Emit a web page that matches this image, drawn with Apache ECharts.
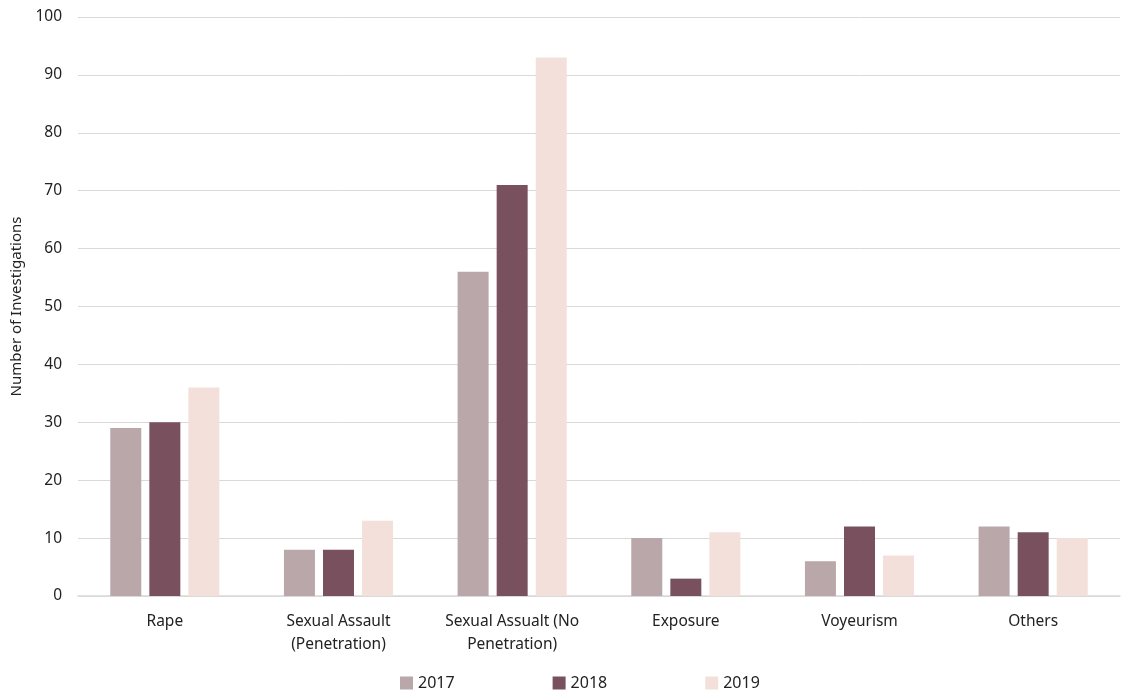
<!DOCTYPE html>
<html>
<head>
<meta charset="utf-8">
<script src="https://cdn.jsdelivr.net/npm/echarts@6/dist/echarts.min.js"></script>
<style>
  html, body { margin: 0; padding: 0; background: #fff; }
  #chart { width: 1122px; height: 691px; }
</style>
</head>
<body>
<div id="chart"></div>
<script>
const categories = ['Rape', 'Sexual Assault\n(Penetration)', 'Sexual Assualt (No\nPenetration)', 'Exposure', 'Voyeurism', 'Others'];
const seriesNames = ['2017', '2018', '2019'];
const values2017 = [29, 8, 56, 10, 6, 12];
const values2018 = [30, 8, 71, 3, 12, 11];
const values2019 = [36, 13, 93, 11, 7, 10];
const colors = ['#BAA7AA', '#79515E', '#F3E0DA'];

const font = 'Noto Sans, Liberation Sans, sans-serif';
const chart = echarts.init(document.getElementById('chart'), null, { renderer: 'canvas' });

const seriesData = [values2017, values2018, values2019];

chart.setOption({
  animation: false,
  textStyle: { fontFamily: font, color: '#222' },
  grid: { left: 78, right: 2, top: 17, bottom: 95, containLabel: false, outerBoundsMode: 'none' },
  legend: {
    bottom: -5,
    left: 395,
    itemWidth: 13,
    itemHeight: 13,
    itemGap: 98,
    icon: 'rect',
    textStyle: { fontFamily: font, fontSize: 16, color: '#222' },
    data: seriesNames
  },
  xAxis: {
    type: 'category',
    data: categories,
    axisTick: { show: false },
    axisLine: { lineStyle: { color: '#d9d9d9', width: 1.5 } },
    axisLabel: { fontFamily: font, fontSize: 15.5, color: '#222', margin: 14, lineHeight: 23, interval: 0 }
  },
  yAxis: {
    type: 'value',
    min: 0,
    max: 100,
    interval: 10,
    name: 'Number of Investigations',
    nameLocation: 'middle',
    nameGap: 54,
    nameTextStyle: { fontFamily: font, fontSize: 15, color: '#222' },
    axisLine: { show: false },
    axisTick: { show: false },
    splitLine: { lineStyle: { color: '#d9d9d9', width: 1 } },
    axisLabel: { fontFamily: font, fontSize: 15.5, color: '#222', margin: 16 }
  },
  series: seriesNames.map((name, i) => ({
    name: name,
    type: 'bar',
    data: seriesData[i],
    barWidth: 31,
    barGap: '26%',
    itemStyle: { color: colors[i] }
  }))
});
</script>
</body>
</html>
